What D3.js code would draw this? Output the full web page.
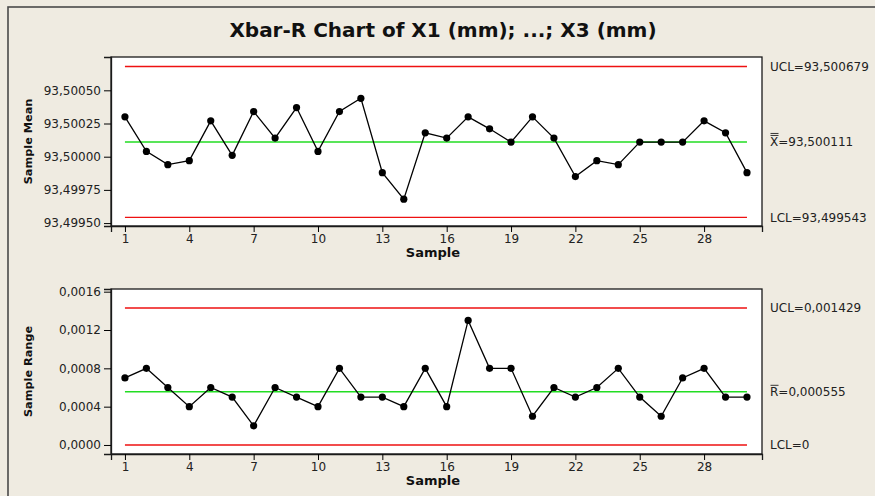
<!DOCTYPE html>
<html>
<head>
<meta charset="utf-8">
<script src="https://cdn.jsdelivr.net/npm/d3@7"></script>
<style>
  body { margin: 0; background: #efebe1; }
  svg { display: block; font-family: 'DejaVu Sans', Verdana, sans-serif; }
</style>
</head>
<body>
<div id="chart"></div>
<script>
// sample numbers 1..30
const samples = [1, 2, 3, 4, 5, 6, 7, 8, 9, 10, 11, 12, 13, 14, 15,
  16, 17, 18, 19, 20, 21, 22, 23, 24, 25, 26, 27, 28, 29, 30]

// subgroup means (mm)
const means = [93.50030, 93.50004, 93.49994, 93.49997, 93.50027, 93.50001, 93.50034, 93.50014, 93.50037, 93.50004,
  93.50034, 93.50044, 93.49988, 93.49968, 93.50018, 93.50014, 93.50030, 93.50021, 93.50011, 93.50030,
  93.50014, 93.49985, 93.49997, 93.49994, 93.50011, 93.50011, 93.50011, 93.50027, 93.50018, 93.49988]

// subgroup ranges (mm)
const ranges = [0.0007, 0.0008, 0.0006, 0.0004, 0.0006, 0.0005, 0.0002, 0.0006, 0.0005, 0.0004,
  0.0008, 0.0005, 0.0005, 0.0004, 0.0008, 0.0004, 0.0013, 0.0008, 0.0008, 0.0003,
  0.0006, 0.0005, 0.0006, 0.0008, 0.0005, 0.0003, 0.0007, 0.0008, 0.0005, 0.0005]

const xTicks = [1, 4, 7, 10, 13, 16, 19, 22, 25, 28]
const meanTicks = [93.4995, 93.49975, 93.5, 93.50025, 93.5005]
const rangeTicks = [0, 0.0004, 0.0008, 0.0012, 0.0016]

const meanLimits = { ucl: 93.500679, center: 93.500111, lcl: 93.499543 }
const rangeLimits = { ucl: 0.001429, center: 0.000555, lcl: 0 }
const meanLabels = { ucl: 'UCL=93,500679', center: '=93,500111', lcl: 'LCL=93,499543' }
const rangeLabels = { ucl: 'UCL=0,001429', center: '=0,000555', lcl: 'LCL=0' }

const width = 875
const height = 496

const locale = d3.formatLocale({ decimal: ',', thousands: '.', grouping: [3], currency: ['', ''] })

const svg = d3.select('#chart')
  .append('svg')
  .attr('width', width)
  .attr('height', height)

// outer frame
svg.append('rect')
  .attr('x', 8).attr('y', 7)
  .attr('width', 900).attr('height', 520)
  .attr('fill', '#efebe1')
  .attr('stroke', '#4a4a4a')
  .attr('stroke-width', 1.6)

svg.append('text')
  .attr('x', 443)
  .attr('y', 37)
  .attr('text-anchor', 'middle')
  .attr('font-size', 20)
  .attr('font-weight', 'bold')
  .attr('fill', '#111')
  .text('Xbar-R Chart of X1 (mm); ...; X3 (mm)')

const x = d3.scaleLinear()
  .domain([0.35, 30.7])
  .range([111, 762])

const drawPanel = (opts) => {
  const { top, bottom, y, values, ticks, fmt, limits, labels, yLabel, bar } = opts
  const g = svg.append('g')

  g.append('rect')
    .attr('x', 111).attr('y', top)
    .attr('width', 762 - 111).attr('height', bottom - top)
    .attr('fill', '#fff')
    .attr('stroke', '#1a1a1a')
    .attr('stroke-width', 1.3)

  const yAxis = g.append('g')
    .attr('transform', 'translate(111,0)')
    .call(d3.axisLeft(y).tickValues(ticks).tickFormat(fmt).tickSize(7).tickPadding(3))
  yAxis.select('.domain').attr('stroke', '#1a1a1a').attr('stroke-width', 1.3)
  yAxis.selectAll('text').attr('font-size', 12).attr('font-family', 'DejaVu Sans').attr('fill', '#222')

  const xAxis = g.append('g')
    .attr('transform', `translate(0,${bottom})`)
    .call(d3.axisBottom(x).tickValues(xTicks).tickFormat(d3.format('d')).tickSize(6).tickPadding(2))
  xAxis.select('.domain').attr('stroke', '#1a1a1a').attr('stroke-width', 1.3)
  xAxis.selectAll('text').attr('font-size', 12).attr('font-family', 'DejaVu Sans').attr('fill', '#222')

  g.append('text')
    .attr('transform', `translate(32,${(top + bottom) / 2}) rotate(-90)`)
    .attr('text-anchor', 'middle')
    .attr('font-size', 11.3)
    .attr('font-weight', 'bold')
    .attr('fill', '#111')
    .text(yLabel)

  g.append('text')
    .attr('x', 433)
    .attr('y', bottom + 31)
    .attr('text-anchor', 'middle')
    .attr('font-size', 13)
    .attr('font-weight', 'bold')
    .attr('fill', '#111')
    .text('Sample')

  // control limits
  const limitColor = { ucl: '#ee1111', center: '#22dd22', lcl: '#ee1111' }
  Object.keys(limits).forEach(k => {
    g.append('line')
      .attr('x1', x(samples[0])).attr('x2', x(samples[samples.length - 1]))
      .attr('y1', y(limits[k])).attr('y2', y(limits[k]))
      .attr('stroke', limitColor[k])
      .attr('stroke-width', 1.4)
  })

  const line = d3.line()
    .x((d, i) => x(samples[i]))
    .y(d => y(d))

  g.append('path')
    .datum(values)
    .attr('fill', 'none')
    .attr('stroke', '#000')
    .attr('stroke-width', 1.3)
    .attr('d', line)

  g.selectAll('circle')
    .data(values)
    .enter().append('circle')
    .attr('cx', (d, i) => x(samples[i]))
    .attr('cy', d => y(d))
    .attr('r', 3.6)
    .attr('fill', '#000')

  // labels on the right
  Object.keys(labels).forEach(k => {
    const t = g.append('text')
      .attr('x', 770)
      .attr('y', y(limits[k]))
      .attr('dy', '0.35em')
      .attr('font-size', 12)
      .attr('fill', '#222')
    if (k === 'center') {
      t.append('tspan').text(bar.sym)
      t.append('tspan').text(labels[k])
      const cy = y(limits[k])
      for (let j = 0; j < bar.count; j++) {
        g.append('line')
          .attr('x1', 770.5).attr('x2', 778.5)
          .attr('y1', cy - 6.5 - j * 2).attr('y2', cy - 6.5 - j * 2)
          .attr('stroke', '#222')
          .attr('stroke-width', 0.9)
      }
    } else {
      t.text(labels[k])
    }
  })
}

const yMean = d3.scaleLinear()
  .domain([93.499478, 93.500751])
  .range([226, 57])

const yRange = d3.scaleLinear()
  .domain([-0.0000941, 0.001628])
  .range([454, 289])

drawPanel({
  top: 57, bottom: 226, y: yMean, values: means, ticks: meanTicks,
  fmt: locale.format('.5f'), limits: meanLimits, labels: meanLabels,
  yLabel: 'Sample Mean', bar: { sym: 'X', count: 2 }
})

drawPanel({
  top: 289, bottom: 454, y: yRange, values: ranges, ticks: rangeTicks,
  fmt: locale.format('.4f'), limits: rangeLimits, labels: rangeLabels,
  yLabel: 'Sample Range', bar: { sym: 'R', count: 1 }
})
</script>
</body>
</html>
